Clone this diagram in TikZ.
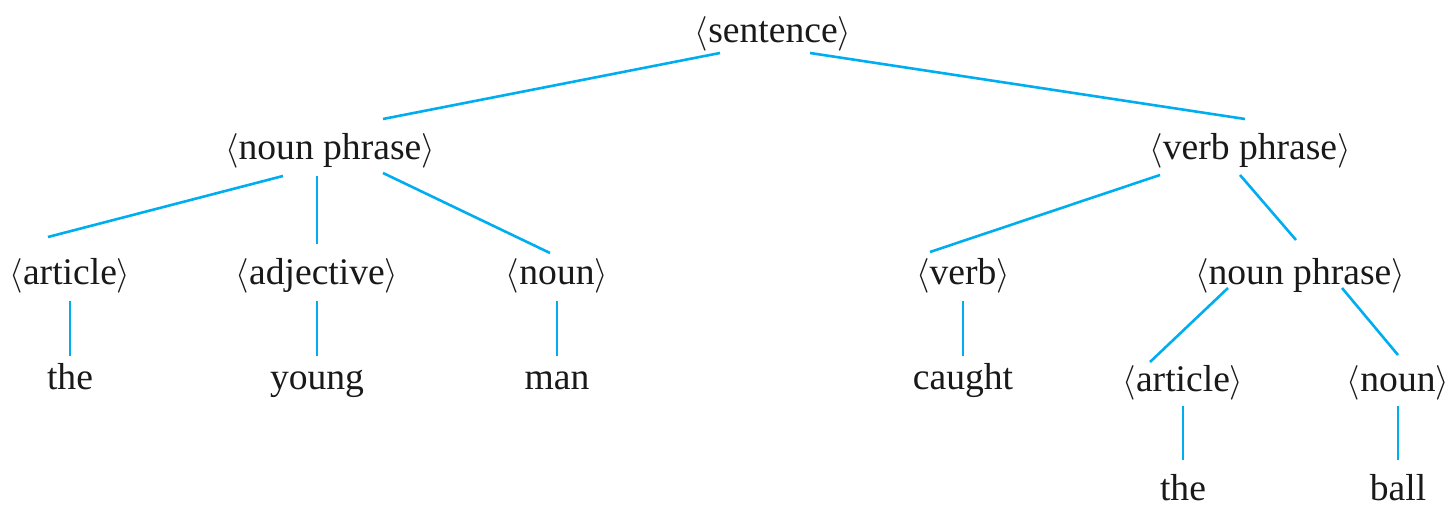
\documentclass[tikz,border=0pt]{standalone}
\usepackage{fontspec}
\setmainfont{Liberation Serif}
\usetikzlibrary{calc}
\definecolor{branch}{RGB}{0,174,239}
\tikzset{
  word/.style={anchor=base, inner sep=0pt, font=\fontsize{18.8}{22}\selectfont, text=black!90},
  edge/.style={draw=branch, line width=1.3pt}
}
\newcommand{\cat}[1]{$\langle$#1$\rangle$}
\begin{document}
\begin{tikzpicture}[x=0.5pt, y=-0.5pt]
  \useasboundingbox (0,0) rectangle (1452,506);
  % categories and words, placed on their baselines
  \node[word] (s)    at (773,43)   {\cat{sentence}};
  \node[word] (np)   at (330,160)  {\cat{noun phrase}};
  \node[word] (vp)   at (1250,160) {\cat{verb phrase}};
  \node[word] (art)  at (70,285)   {\cat{article}};
  \node[word] (adj)  at (317,285)  {\cat{adjective}};
  \node[word] (n)    at (557,285)  {\cat{noun}};
  \node[word] (v)    at (963,285)  {\cat{verb}};
  \node[word] (np2)  at (1300,285) {\cat{noun phrase}};
  \node[word] (the)  at (70,390)   {the};
  \node[word] (young) at (317,390) {young};
  \node[word] (man)  at (557,390)  {man};
  \node[word] (caught) at (963,390) {caught};
  \node[word] (art2) at (1183,392) {\cat{article}};
  \node[word] (n2)   at (1398,392) {\cat{noun}};
  \node[word] (the2) at (1183,501) {the};
  \node[word] (ball) at (1398,501) {ball};
  % branches, measured from the baselines of the labels they join
  \draw[edge] ($(s.base)+(-53,10)$) -- ($(np.base)+(53,-41)$);
  \draw[edge] ($(s.base)+(37,10)$) -- ($(vp.base)+(-5,-41)$);
  \draw[edge] ($(np.base)+(-47,16)$) -- ($(art.base)+(-22,-48)$);
  \draw[edge] ($(np.base)+(-13,16)$) -- ($(adj.base)+(0,-41)$);
  \draw[edge] ($(np.base)+(53,13)$) -- ($(n.base)+(-7,-32)$);
  \draw[edge] ($(vp.base)+(-90,15)$) -- ($(v.base)+(-33,-33)$);
  \draw[edge] ($(vp.base)+(-10,15)$) -- ($(np2.base)+(-4,-45)$);
  \draw[edge] ($(art.base)+(0,16)$) -- ($(the.base)+(0,-34)$);
  \draw[edge] ($(adj.base)+(0,16)$) -- ($(young.base)+(0,-34)$);
  \draw[edge] ($(n.base)+(0,16)$) -- ($(man.base)+(0,-34)$);
  \draw[edge] ($(v.base)+(0,16)$) -- ($(caught.base)+(0,-34)$);
  \draw[edge] ($(np2.base)+(-72,3)$) -- ($(art2.base)+(-33,-30)$);
  \draw[edge] ($(np2.base)+(42,3)$) -- ($(n2.base)+(0,-37)$);
  \draw[edge] ($(art2.base)+(0,14)$) -- ($(the2.base)+(0,-41)$);
  \draw[edge] ($(n2.base)+(0,14)$) -- ($(ball.base)+(0,-41)$);
\end{tikzpicture}
\end{document}
